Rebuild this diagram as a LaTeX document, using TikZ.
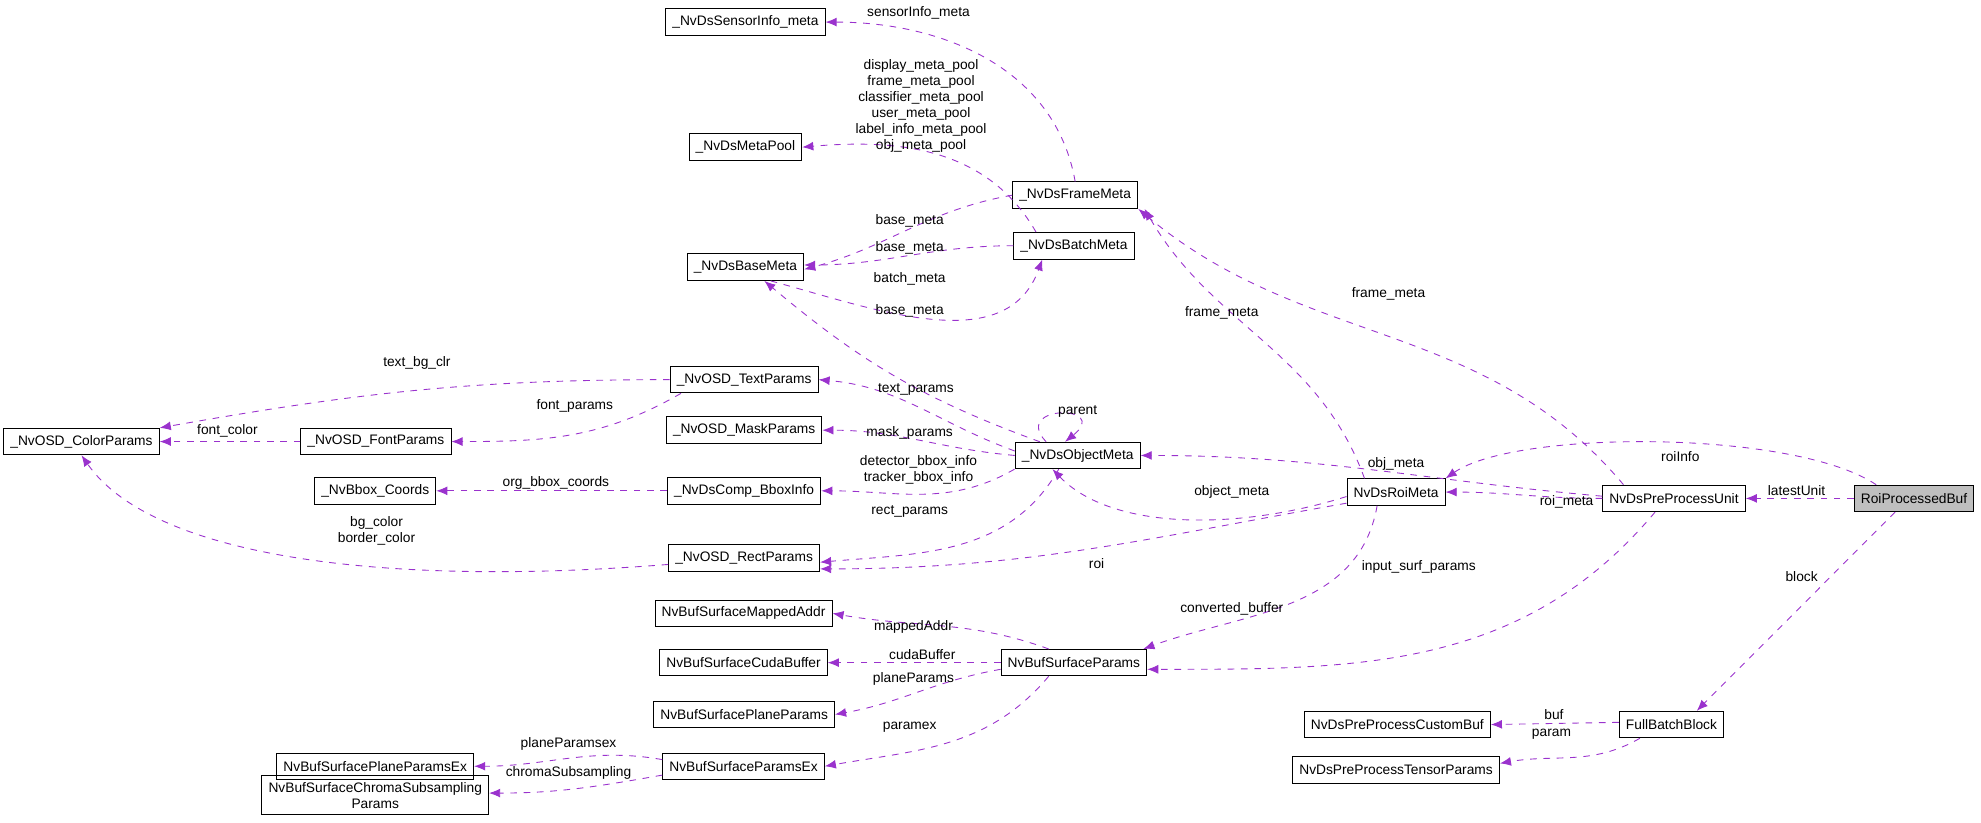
\documentclass[tikz,border=0pt]{standalone}
\usepackage{fontspec}
\setmainfont{Liberation Sans}
\usetikzlibrary{arrows.meta}
\definecolor{edgecol}{HTML}{9A32CD}

\begin{document}
\begin{tikzpicture}[x=0.02cm, y=-0.02cm,
  font=\fontsize{6.2}{7.2}\selectfont,
  cls/.style={draw, rectangle, minimum height=0.42cm, inner xsep=3pt, inner ysep=1pt, align=center},
  use/.style={draw=edgecol, dashed, -{Latex[length=5pt,width=4pt]}},
  lbl/.style={inner sep=0pt, align=center}]
 \useasboundingbox (0,0) rectangle (1568,651);
 % classes
 \node (sensor) [cls] at (590,17.5) {\_NvDsSensorInfo\_meta};
 \node (pool) [cls] at (590,116.5) {\_NvDsMetaPool};
 \node (frame) [cls] at (851,154.5) {\_NvDsFrameMeta};
 \node (batch) [cls] at (850,194.5) {\_NvDsBatchMeta};
 \node (base) [cls] at (590,211.5) {\_NvDsBaseMeta};
 \node (text) [cls] at (589,300.5) {\_NvOSD\_TextParams};
 \node (color) [cls] at (64.5,349.5) {\_NvOSD\_ColorParams};
 \node (font) [cls] at (297.5,349.5) {\_NvOSD\_FontParams};
 \node (mask) [cls] at (589,340.5) {\_NvOSD\_MaskParams};
 \node (object) [cls] at (853,360.5) {\_NvDsObjectMeta};
 \node (coords) [cls] at (297,388.5) {\_NvBbox\_Coords};
 \node (bbox) [cls] at (589,388.5) {\_NvDsComp\_BboxInfo};
 \node (rect) [cls] at (589,441.5) {\_NvOSD\_RectParams};
 \node (roimeta) [cls] at (1105,389.5) {NvDsRoiMeta};
 \node (unit) [cls] at (1325,394.5) {NvDsPreProcessUnit};
 \node (roibuf) [cls, fill=black!25] at (1515,394.5) {RoiProcessedBuf};
 \node (mapped) [cls] at (588.5,485.5) {NvBufSurfaceMappedAddr};
 \node (cuda) [cls] at (588.5,524.5) {NvBufSurfaceCudaBuffer};
 \node (surf) [cls] at (850,524.5) {NvBufSurfaceParams};
 \node (plane) [cls] at (589,565.5) {NvBufSurfacePlaneParams};
 \node (planeex) [cls] at (297,606.5) {NvBufSurfacePlaneParamsEx};
 \node (surfex) [cls] at (588.5,606.5) {NvBufSurfaceParamsEx};
 \node (chroma) [cls, minimum height=0.62cm] at (297,629.5) {NvBufSurfaceChromaSubsampling\\Params};
 \node (custom) [cls] at (1106,573.5) {NvDsPreProcessCustomBuf};
 \node (full) [cls] at (1323,573.5) {FullBatchBlock};
 \node (tensor) [cls] at (1105,609.5) {NvDsPreProcessTensorParams};

 % connectors
 \draw[use] (frame.north) to[out=100,in=0] (sensor.east);
 \draw[use] ([xshift=-0.6cm]batch.north) to[out=120,in=5] (pool.east);
 \draw[use] (frame.west) to[out=190,in=15] ([yshift=-1pt]base.east);
 \draw[use] (batch.west) to[out=180,in=0] ([yshift=1pt]base.east);
 \draw[use] ([xshift=0.4cm]base.south) to[out=-15,in=-110] ([xshift=-0.5cm]batch.south);
 \draw[use] ([xshift=-0.6cm]object.north) to[out=160,in=-40] ([xshift=0.3cm]base.south);
 \draw[use] ([yshift=2pt]object.west) to[out=160,in=-5] (text.east);
 \draw[use] ([xshift=-0.5cm]object.north) .. controls (800,320) and (880,320) .. ([xshift=-0.2cm]object.north);
 \draw[use] (text.west) to[out=180,in=10] (color.north east);
 \draw[use] ([xshift=-1.0cm]text.south) to[out=-150,in=0] (font.east);
 \draw[use] (font.west) -- (color.east);
 \draw[use] (object.west) to[out=175,in=0] (mask.east);
 \draw[use] ([xshift=-1.0cm]object.south) to[out=-150,in=0] (bbox.east);
 \draw[use] (bbox.west) -- (coords.east);
 \draw[use] ([xshift=-0.3cm]object.south) to[out=-120,in=5] ([yshift=-2pt]rect.east);
 \draw[use] ([yshift=-3pt]rect.west) .. controls (300,465) and (120,440) .. (color.south);
 \draw[use] ([xshift=-0.5cm]roimeta.north) to[out=110,in=-60] ([xshift=1.1cm]frame.south);
 \draw[use] ([yshift=-2pt]roimeta.west) .. controls (980,420) and (880,420) .. ([xshift=-0.4cm]object.south);
 \draw[use] ([yshift=-5pt]roimeta.west) to[out=190,in=0] ([yshift=-5pt]rect.east);
 \draw[use] ([xshift=-0.3cm]roimeta.south) to[out=-100,in=20] ([xshift=1.1cm]surf.north);
 \draw[use] ([xshift=-0.8cm]unit.north) to[out=130,in=-40] ([xshift=1.0cm]frame.south);
 \draw[use] ([yshift=1pt]unit.west) to[out=175,in=0] (object.east);
 \draw[use] (unit.west) to[out=180,in=0] (roimeta.east);
 \draw[use] ([xshift=-0.3cm]unit.south) to[out=-130,in=0] ([yshift=-3pt]surf.east);
 \draw[use] ([xshift=-0.6cm]roibuf.north) .. controls (1420,340) and (1200,340) .. (roimeta.north east);
 \draw[use] (roibuf.west) -- (unit.east);
 \draw[use] ([xshift=-0.3cm]roibuf.south) -- ([xshift=0.4cm]full.north);
 \draw[use] ([yshift=1pt]full.west) -- (custom.east);
 \draw[use] ([xshift=-0.5cm]full.south) to[out=-150,in=10] ([yshift=3pt]tensor.east);
 \draw[use] ([xshift=-0.4cm]surf.north) to[out=160,in=-10] (mapped.east);
 \draw[use] (surf.west) -- (cuda.east);
 \draw[use] ([yshift=-3pt]surf.west) to[out=190,in=10] (plane.east);
 \draw[use] ([xshift=-0.4cm]surf.south) to[out=-130,in=10] (surfex.east);
 \draw[use] ([yshift=3pt]surfex.west) to[out=170,in=0] (planeex.east);
 \draw[use] ([yshift=-4pt]surfex.west) to[out=190,in=0] ([yshift=1pt]chroma.east);

 % labels
 \node (l1) [lbl] at (727,10) {sensorInfo\_meta};
 \node (l2) [lbl] at (729,83.5) {display\_meta\_pool\\frame\_meta\_pool\\classifier\_meta\_pool\\user\_meta\_pool\\label\_info\_meta\_pool\\obj\_meta\_pool};
 \node (l3) [lbl] at (720,175) {base\_meta};
 \node (l4) [lbl] at (720,196) {base\_meta};
 \node (l5) [lbl] at (720,221) {batch\_meta};
 \node (l6) [lbl] at (720,246) {base\_meta};
 \node (l7) [lbl] at (725,308) {text\_params};
 \node (l8) [lbl] at (853,326) {parent};
 \node (l9) [lbl] at (330,287) {text\_bg\_clr};
 \node (l10) [lbl] at (455,321) {font\_params};
 \node (l11) [lbl] at (180,341) {font\_color};
 \node (l12) [lbl] at (720,343) {mask\_params};
 \node (l13) [lbl] at (727,372) {detector\_bbox\_info\\tracker\_bbox\_info};
 \node (l14) [lbl] at (440,382) {org\_bbox\_coords};
 \node (l15) [lbl] at (720,405) {rect\_params};
 \node (l16) [lbl] at (298,420) {bg\_color\\border\_color};
 \node (l17) [lbl] at (967,248) {frame\_meta};
 \node (l18) [lbl] at (975,389) {object\_meta};
 \node (l19) [lbl] at (868,446) {roi};
 \node (l20) [lbl] at (975,482) {converted\_buffer};
 \node (l21) [lbl] at (1099,233) {frame\_meta};
 \node (l22) [lbl] at (1105,367) {obj\_meta};
 \node (l23) [lbl] at (1240,397) {roi\_meta};
 \node (l24) [lbl] at (1123,449) {input\_surf\_params};
 \node (l25) [lbl] at (1330,361) {roiInfo};
 \node (l26) [lbl] at (1422,388) {latestUnit};
 \node (l27) [lbl] at (1426,456) {block};
 \node (l28) [lbl] at (1230,566) {buf};
 \node (l29) [lbl] at (1228,581) {param};
 \node (l30) [lbl] at (723,496) {mappedAddr};
 \node (l31) [lbl] at (730,518) {cudaBuffer};
 \node (l32) [lbl] at (723,537) {planeParams};
 \node (l33) [lbl] at (720,576) {paramex};
 \node (l34) [lbl] at (450,589) {planeParamsex};
 \node (l35) [lbl] at (450,612) {chromaSubsampling};
\end{tikzpicture}
\end{document}
